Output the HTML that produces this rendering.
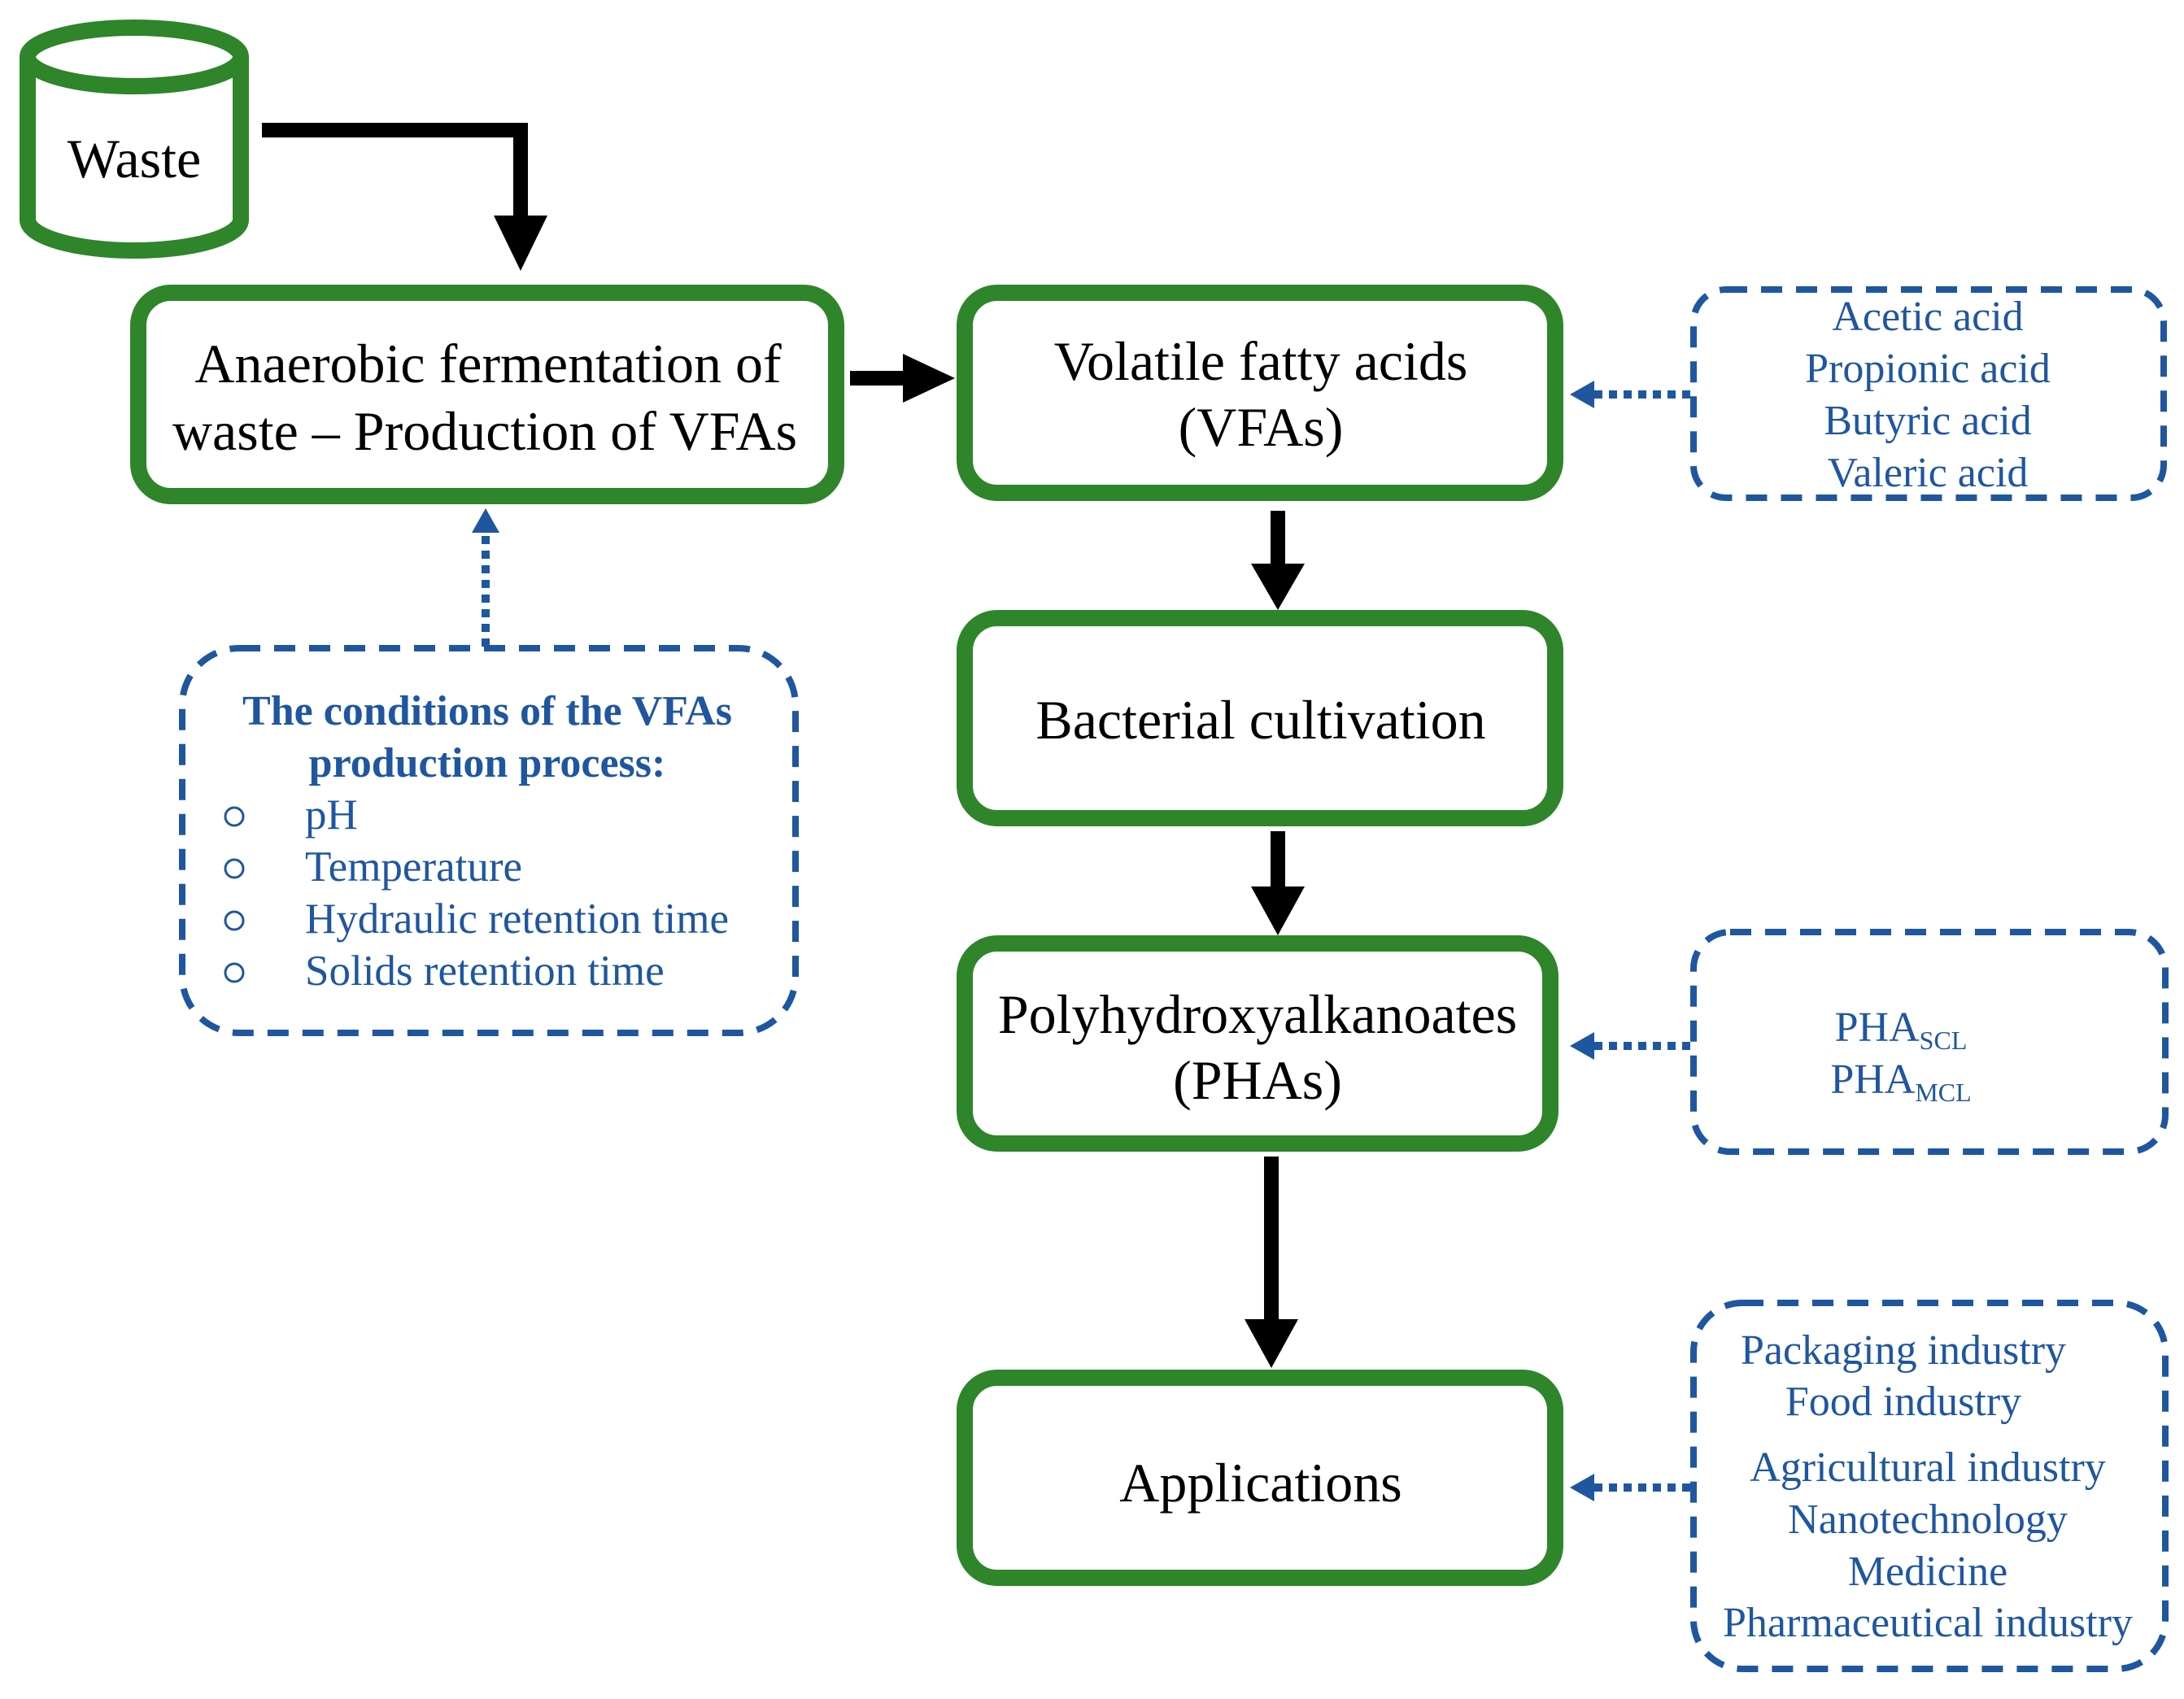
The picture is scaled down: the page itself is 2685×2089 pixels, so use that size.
<!DOCTYPE html>
<html><head><meta charset="utf-8"><style>
html,body{margin:0;padding:0;background:#fff;}
svg{display:block;}
text{font-family:"Liberation Serif",serif;}
.b{font-size:68px;fill:#000;text-anchor:middle;}
.u{font-size:52px;fill:#1f56a0;text-anchor:middle;}
.l{font-size:53px;fill:#1f56a0;text-anchor:start;}
</style></head><body>
<svg width="2685" height="2089" viewBox="0 0 2685 2089" xmlns="http://www.w3.org/2000/svg">
<!-- cylinder -->
<g fill="none" stroke="#2e852a" stroke-width="20">
<path d="M34 70 L34 270 A131 38 0 0 0 296 270 L296 70"/>
<ellipse cx="165" cy="70" rx="131" ry="36"/>
</g>
<text class="b" x="165" y="218">Waste</text>
<!-- waste arrow -->
<path d="M322 160 L640 160 L640 270" fill="none" stroke="#000" stroke-width="18"/>
<polygon points="607,265 673,265 640,333" fill="#000"/>
<!-- green boxes -->
<g fill="#fff" stroke="#2e852a" stroke-width="20">
<rect x="170" y="360" width="858" height="250" rx="40"/>
<rect x="1186" y="360" width="726" height="246" rx="40"/>
<rect x="1186" y="760" width="726" height="246" rx="40"/>
<rect x="1186" y="1160" width="720" height="246" rx="40"/>
<rect x="1186" y="1694" width="726" height="246" rx="40"/>
</g>
<text class="b" x="600" y="470">Anaerobic fermentation of</text>
<text class="b" x="596" y="553">waste – Production of VFAs</text>
<text class="b" x="1550" y="467">Volatile fatty acids</text>
<text class="b" x="1550" y="548">(VFAs)</text>
<text class="b" x="1550" y="908">Bacterial cultivation</text>
<text class="b" x="1546" y="1270">Polyhydroxyalkanoates</text>
<text class="b" x="1546" y="1351">(PHAs)</text>
<text class="b" x="1550" y="1846">Applications</text>
<!-- black arrows -->
<rect x="1045" y="456" width="70" height="18" fill="#000"/>
<polygon points="1110,435 1174,465 1110,495" fill="#000"/>
<rect x="1562" y="628" width="18" height="70" fill="#000"/>
<polygon points="1538,693 1604,693 1571,750" fill="#000"/>
<rect x="1562" y="1022" width="18" height="72" fill="#000"/>
<polygon points="1538,1090 1604,1090 1571,1150" fill="#000"/>
<rect x="1554" y="1422" width="18" height="205" fill="#000"/>
<polygon points="1530,1622 1596,1622 1563,1682" fill="#000"/>
<!-- dashed boxes -->
<g fill="none" stroke="#1f56a0" stroke-width="8" stroke-dasharray="26,17">
<rect x="2082" y="356" width="578" height="256" rx="40"/>
<rect x="2082" y="1146" width="580" height="270" rx="45"/>
<rect x="2082" y="1602" width="580" height="450" rx="60"/>
<rect x="224" y="797" width="754" height="473" rx="70"/>
</g>
<!-- dotted arrows -->
<g stroke="#1f56a0" stroke-width="10" stroke-dasharray="10,8" fill="none">
<line x1="2078" y1="485" x2="1955" y2="485"/>
<line x1="2078" y1="1286" x2="1955" y2="1286"/>
<line x1="2078" y1="1829" x2="1955" y2="1829"/>
<line x1="597" y1="795" x2="597" y2="650"/>
</g>
<g fill="#1f56a0">
<polygon points="1960,468 1930,485 1960,502"/>
<polygon points="1960,1269 1930,1286 1960,1303"/>
<polygon points="1960,1812 1930,1829 1960,1846"/>
<polygon points="580,655 597,625 614,655"/>
</g>
<!-- blue texts -->
<text class="u" x="2370" y="406">Acetic acid</text>
<text class="u" x="2370" y="470">Propionic acid</text>
<text class="u" x="2370" y="534">Butyric acid</text>
<text class="u" x="2370" y="598">Valeric acid</text>
<text class="u" x="2337" y="1280">PHA<tspan font-size="32" dy="10">SCL</tspan></text>
<text class="u" x="2337" y="1344">PHA<tspan font-size="32" dy="10">MCL</tspan></text>
<text class="u" x="2340" y="1677">Packaging industry</text>
<text class="u" x="2340" y="1740">Food industry</text>
<text class="u" x="2370" y="1821">Agricultural industry</text>
<text class="u" x="2370" y="1885">Nanotechnology</text>
<text class="u" x="2370" y="1949">Medicine</text>
<text class="u" x="2370" y="2012">Pharmaceutical industry</text>
<text class="u" x="599" y="891" style="font-weight:bold">The conditions of the VFAs</text>
<text class="u" x="599" y="955" style="font-weight:bold">production process:</text>
<text x="375" y="1019" class="l">pH</text>
<text x="375" y="1083" class="l">Temperature</text>
<text x="375" y="1147" class="l">Hydraulic retention time</text>
<text x="375" y="1211" class="l">Solids retention time</text>
<g fill="none" stroke="#1f56a0" stroke-width="3">
<circle cx="288" cy="1004" r="11"/>
<circle cx="288" cy="1068" r="11"/>
<circle cx="288" cy="1132" r="11"/>
<circle cx="288" cy="1196" r="11"/>
</g>
</svg>
</body></html>
